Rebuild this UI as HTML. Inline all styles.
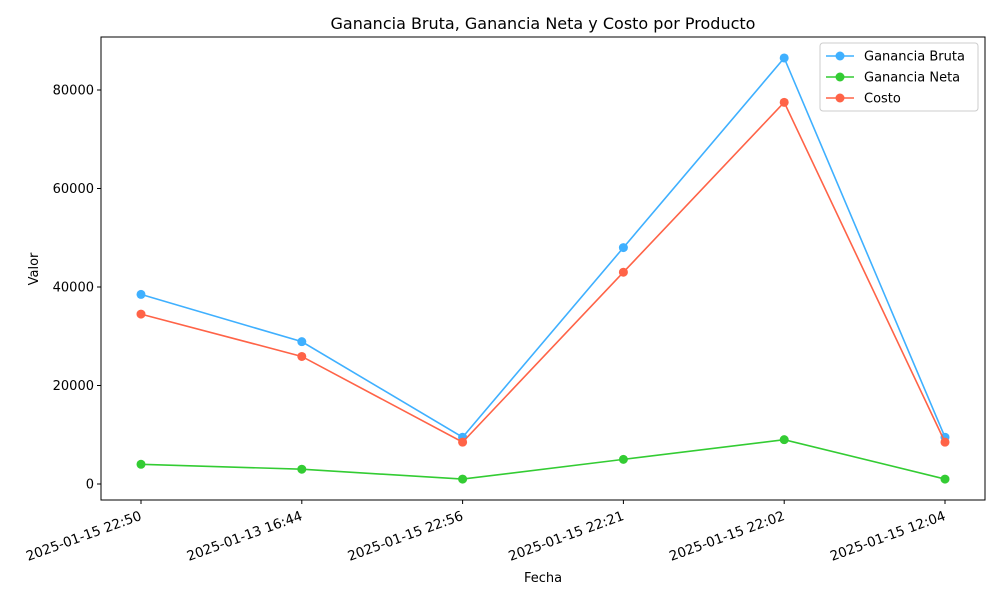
<!DOCTYPE html>
<html><head><meta charset="utf-8"><style>
body{margin:0;background:#fff;font-family:"Liberation Sans","DejaVu Sans",sans-serif;}
svg text{font-family:"DejaVu Sans","Liberation Sans",sans-serif;}
</style></head><body>
<svg id="chart" width="1000" height="600" xmlns="http://www.w3.org/2000/svg"></svg>
<script>
const categories=["2025-01-15 22:50","2025-01-13 16:44","2025-01-15 22:56","2025-01-15 22:21","2025-01-15 22:02","2025-01-15 12:04"];
const brutaValues=[38500,28900,9500,48000,86500,9500];
const netaValues=[4000,3000,1000,5000,9000,1000];
const costoValues=[34500,25900,8500,43000,77500,8500];
const yTicks=[0,20000,40000,60000,80000];
const seriesNames=["Ganancia Bruta","Ganancia Neta","Costo"];
const seriesColors=["#3fb0ff","#33cc33","#ff6347"];

const svg=document.getElementById('chart');
const NS="http://www.w3.org/2000/svg";
function mk(t,a,txt){const e=document.createElementNS(NS,t);for(const k in a)e.setAttribute(k,a[k]);if(txt!==undefined)e.textContent=txt;svg.appendChild(e);return e;}
const L=101,R=985,T=37,B=500;
const xS=i=>141+i*(945-141)/(categories.length-1);
const yS=v=>484-v*(484-90)/80000;

let e=mk('text',{x:543,y:29,'text-anchor':'middle','font-size':16},'Ganancia Bruta, Ganancia Neta y Costo por Producto');

e=mk('rect',{x:L,y:T,width:R-L,height:B-T,fill:'none',stroke:'#000','stroke-width':1});

yTicks.forEach(v=>{const y=yS(v);
 mk('line',{x1:L-4,x2:L,y1:y,y2:y,stroke:'#000'});
 e=mk('text',{x:L-7,y:y+4.5,'text-anchor':'end','font-size':13},String(v));
 });
categories.forEach((c,i)=>{const x=xS(i);
 mk('line',{x1:x,x2:x,y1:B,y2:B+4,stroke:'#000'});
 e=mk('text',{x:x-2,y:B+20,'text-anchor':'end','font-size':13.5,transform:`rotate(-20 ${x-2} ${B+10})`},c);
 });
e=mk('text',{x:543,y:582,'text-anchor':'middle','font-size':13},'Fecha');

e=mk('text',{x:38,y:269,'text-anchor':'middle','font-size':13,transform:'rotate(-90 38 269)'},'Valor');


[brutaValues,netaValues,costoValues].forEach((vals,s)=>{
 e=mk('polyline',{points:vals.map((v,i)=>xS(i)+','+yS(v)).join(' '),fill:'none',stroke:seriesColors[s],'stroke-width':1.6});
 
 vals.forEach((v,i)=>{e=mk('circle',{cx:xS(i),cy:yS(v),r:4.5,fill:seriesColors[s]});
  });
});
e=mk('rect',{x:820,y:43,width:158,height:68,rx:3,fill:'#fff',stroke:'#ccc'});

seriesNames.forEach((n,s)=>{const y=56+s*21;
 mk('line',{x1:826,x2:854,y1:y,y2:y,stroke:seriesColors[s],'stroke-width':1.6});
 mk('circle',{cx:840,cy:y,r:4.5,fill:seriesColors[s]});
 e=mk('text',{x:864,y:y+4.5,'font-size':13},n);
 });
</script>
</body></html>
